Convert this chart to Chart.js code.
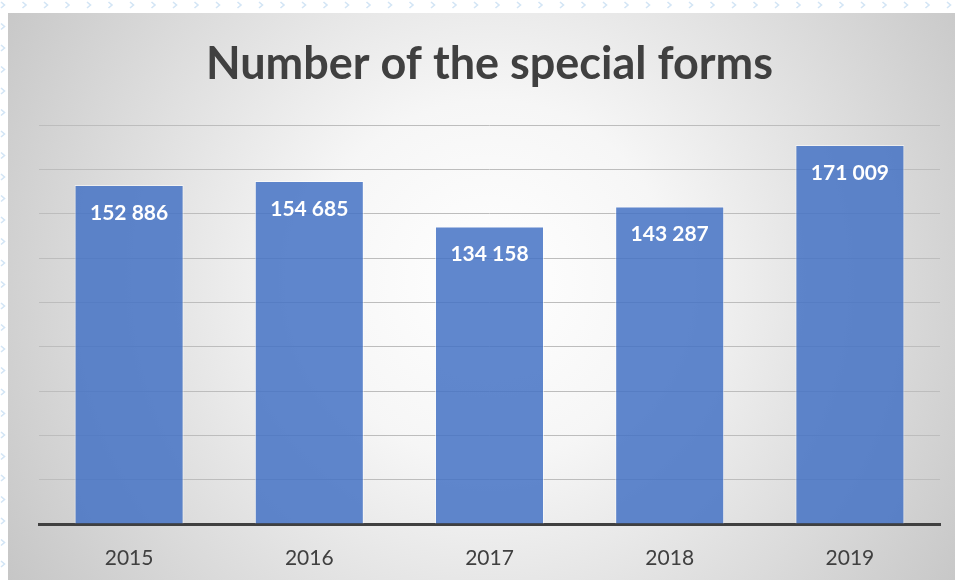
<!DOCTYPE html>
<html>
<head>
<meta charset="utf-8">
<style>
  html, body { margin: 0; padding: 0; background: #fff; }
  #wrap { width: 955px; height: 580px; position: relative; }
</style>
<script src="https://cdn.jsdelivr.net/npm/chart.js@4.4.0/dist/chart.umd.min.js"></script>
</head>
<body>
<div id="wrap"><canvas id="chart" width="955" height="580"></canvas></div>
<script>
// data
var years = ['2015', '2016', '2017', '2018', '2019'];
var forms = [152886, 154685, 134158, 143287, 171009];
var yMax = 180000;
var yStep = 20000;

// number with a space as thousand separator, like "152 886"
function spaced(n) {
    return String(n).replace(/\B(?=(\d{3})+(?!\d))/g, ' ');
}

// grey radial backdrop and the little blue chevrons round the edge
var backdrop = {
    id: 'backdrop',
    beforeDraw: function(chart) {
        var ctx = chart.ctx;
        ctx.save();
        ctx.fillStyle = '#ffffff';
        ctx.fillRect(0, 0, chart.width, chart.height);

        ctx.strokeStyle = '#d3e5f5';
        ctx.lineWidth = 1.6;
        function chevron(x, y) {
            ctx.beginPath();
            ctx.moveTo(x - 2, y - 3);
            ctx.lineTo(x + 1.5, y);
            ctx.lineTo(x - 2, y + 3);
            ctx.stroke();
        }
        for (var x = 3; x < chart.width; x += 21.5) chevron(x, 5);
        for (var y = 26.5; y < chart.height; y += 21.5) chevron(3, y);

        var g = ctx.createRadialGradient(490, 280, 0, 490, 280, 600);
        g.addColorStop(0, '#ffffff');
        g.addColorStop(0.3, '#f6f6f6');
        g.addColorStop(1, '#c2c2c2');
        ctx.fillStyle = g;
        ctx.fillRect(8, 13, chart.width - 8, chart.height - 13);
        ctx.restore();
    }
};

// white values inside the top of each bar
var barValues = {
    id: 'barValues',
    afterDatasetsDraw: function(chart) {
        var ctx = chart.ctx;
        var meta = chart.getDatasetMeta(0);
        ctx.save();
        ctx.fillStyle = '#ffffff';
        ctx.font = 'bold 21px Lato, "Open Sans", sans-serif';
        ctx.textAlign = 'center';
        ctx.textBaseline = 'middle';
        meta.data.forEach(function(bar, i) {
            ctx.fillText(spaced(forms[i]), bar.x, bar.y + 28);
        });
        ctx.restore();
    }
};

new Chart(document.getElementById('chart').getContext('2d'), {
    type: 'bar',
    data: {
        labels: years,
        datasets: [{
            data: forms,
            backgroundColor: 'rgba(68, 114, 196, 0.85)',
            borderColor: 'rgba(255, 255, 255, 0.55)',
            borderWidth: 1,
            categoryPercentage: 0.605,
            barPercentage: 1
        }]
    },
    options: {
        responsive: false,
        animation: false,
        layout: { padding: { top: 0, left: 39, right: 15, bottom: 6 } },
        plugins: {
            legend: { display: false },
            tooltip: { enabled: false },
            title: {
                display: true,
                text: 'Number of the special forms',
                color: '#404040',
                font: { family: 'Lato, "Open Sans", sans-serif', size: 45, weight: 'bold' },
                padding: { top: 37, bottom: 34 }
            }
        },
        scales: {
            x: {
                grid: { display: false },
                border: { display: true, color: '#404040', width: 3 },
                ticks: {
                    color: '#404040',
                    padding: 14,
                    font: { family: 'Lato, "Open Sans", sans-serif', size: 21 }
                },
                afterFit: function(scale) {
                    scale.height = 50;
                }
            },
            y: {
                display: true,
                min: 0,
                max: yMax,
                grid: { color: '#bdbdbd', lineWidth: 1, drawTicks: false },
                border: { display: false },
                ticks: { display: false, stepSize: yStep }
            }
        }
    },
    plugins: [backdrop, barValues]
});
</script>
</body>
</html>
